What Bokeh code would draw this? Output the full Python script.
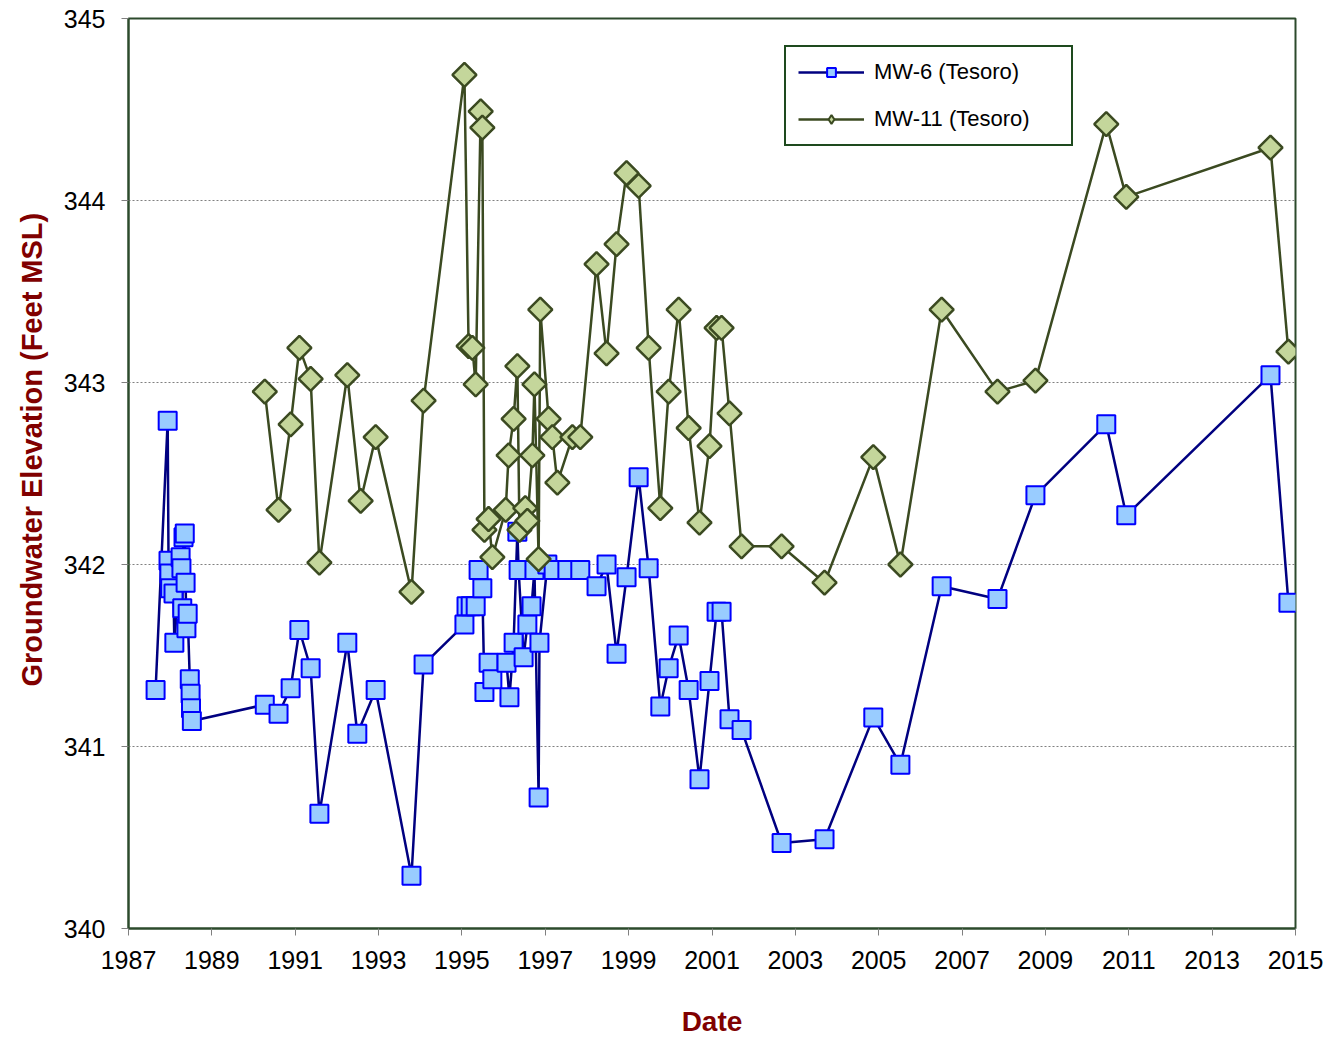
import numpy as np
from bokeh.plotting import figure
from bokeh.models import FixedTicker, Range1d, Legend, LegendItem, Title
from bokeh.embed import file_html
from bokeh.resources import INLINE

# ---- data (decimal years, feet MSL) ----
mw6_dates = [1987.65, 1987.94, 1987.96, 1987.98, 1988.00, 1988.08, 1988.10, 1988.25, 1988.27,
             1988.29, 1988.32, 1988.35, 1988.37, 1988.39, 1988.42, 1988.47, 1988.49, 1988.50,
             1988.52, 1990.27, 1990.60, 1990.89, 1991.10, 1991.37, 1991.58, 1992.25, 1992.49,
             1992.93, 1993.79, 1994.08, 1995.06, 1995.11, 1995.21, 1995.33, 1995.40, 1995.49,
             1995.54, 1995.64, 1995.73, 1996.07, 1996.14, 1996.24, 1996.33, 1996.36, 1996.48,
             1996.57, 1996.67, 1996.74, 1996.84, 1996.86, 1997.05, 1997.20, 1997.53, 1997.84,
             1998.23, 1998.47, 1998.71, 1998.95, 1999.24, 1999.48, 1999.76, 1999.96, 2000.20,
             2000.44, 2000.70, 2000.94, 2001.11, 2001.23, 2001.42, 2001.71, 2002.67, 2003.70,
             2004.87, 2005.52, 2006.51, 2007.85, 2008.76, 2010.46, 2010.94, 2014.40, 2014.83]
mw6_values = [341.31, 342.79, 342.02, 341.95, 341.87, 341.84, 341.57, 342.04, 341.98,
              341.76, 342.15, 342.17, 341.90, 341.65, 341.73, 341.37, 341.29, 341.21,
              341.14, 341.23, 341.18, 341.32, 341.64, 341.43, 340.63, 341.57, 341.07,
              341.31, 340.29, 341.45, 341.67, 341.77, 341.77, 341.77, 341.97, 341.87,
              341.30, 341.46, 341.37, 341.46, 341.27, 341.57, 342.18, 341.97, 341.49,
              341.67, 341.77, 341.97, 340.72, 341.57, 342.00, 341.97, 341.97, 341.97,
              341.88, 342.00, 341.51, 341.93, 342.48, 341.98, 341.22, 341.43, 341.61,
              341.31, 340.82, 341.36, 341.74, 341.74, 341.15, 341.09, 340.47, 340.49,
              341.16, 340.90, 341.88, 341.81, 342.38, 342.77, 342.27, 343.04, 341.79]

mw11_dates = [1990.27, 1990.60, 1990.89, 1991.10, 1991.37, 1991.58, 1992.25, 1992.57, 1992.93,
              1993.79, 1994.08, 1995.06, 1995.16, 1995.25, 1995.33, 1995.45, 1995.49, 1995.54,
              1995.64, 1995.73, 1996.05, 1996.12, 1996.24, 1996.33, 1996.38, 1996.52, 1996.57,
              1996.69, 1996.74, 1996.84, 1996.88, 1997.08, 1997.17, 1997.29, 1997.65, 1997.84,
              1998.23, 1998.47, 1998.71, 1998.95, 1999.24, 1999.48, 1999.76, 1999.96, 2000.20,
              2000.44, 2000.70, 2000.94, 2001.11, 2001.23, 2001.42, 2001.71, 2002.67, 2003.70,
              2004.87, 2005.52, 2006.51, 2007.85, 2008.76, 2010.46, 2010.94, 2014.40, 2014.83]
mw11_values = [342.95, 342.30, 342.77, 343.19, 343.02, 342.01, 343.04, 342.35, 342.70,
               341.85, 342.90, 344.69, 343.20, 343.19, 342.99, 344.49, 344.40, 342.19,
               342.25, 342.04, 342.30, 342.60, 342.80, 343.09, 342.19, 342.31, 342.24,
               342.60, 342.99, 342.03, 343.40, 342.80, 342.70, 342.45, 342.70, 342.70,
               343.65, 343.16, 343.76, 344.15, 344.08, 343.19, 342.31, 342.95, 343.40,
               342.75, 342.23, 342.65, 343.30, 343.30, 342.83, 342.10, 342.10, 341.90,
               342.59, 342.00, 343.40, 342.95, 343.01, 344.42, 344.02, 344.29, 343.17]

x_ticks = list(range(1987, 2016, 2))
y_ticks = [340, 341, 342, 343, 344, 345]
series_labels = ["MW-6 (Tesoro)", "MW-11 (Tesoro)"]
x_title = "Date"
y_title = "Groundwater Elevation (Feet MSL)"

FONT = "Liberation Sans"
TITLE_RED = "#800000"
FRAME = "#2C4A2C"
MW6_LINE, MW6_FILL, MW6_EDGE = "#000080", "#99CCFF", "#0000FF"
MW11_LINE, MW11_FILL = "#3B4A21", "#C4D69B"

p = figure(width=1331, height=1041, output_backend="svg", toolbar_location=None,
           x_range=Range1d(1987, 2015), y_range=Range1d(340, 345),
           min_border_left=128, min_border_right=36, min_border_top=18, min_border_bottom=113)
p.background_fill_color = "white"
p.border_fill_color = "white"
p.outline_line_color = FRAME
p.outline_line_width = 2

# grid
p.xgrid.visible = False
p.ygrid.ticker = FixedTicker(ticks=y_ticks)
p.ygrid.grid_line_color = "#808080"
p.ygrid.grid_line_dash = "2 2"
p.ygrid.grid_line_width = 1

# axes
p.xaxis.ticker = FixedTicker(ticks=x_ticks)
p.yaxis.ticker = FixedTicker(ticks=y_ticks)
for ax in (p.xaxis[0], p.yaxis[0]):
    ax.axis_line_color = FRAME
    ax.axis_line_width = 2
    ax.major_tick_line_color = "#808080"
    ax.major_tick_out = 7
    ax.major_tick_in = 0
    ax.minor_tick_line_color = None
    ax.major_label_text_font = FONT
    ax.major_label_text_font_size = "25px"
    ax.major_label_text_color = "black"
p.xaxis.major_label_standoff = 15
p.yaxis.major_label_standoff = 16

p.xaxis.axis_label = x_title
p.xaxis.axis_label_standoff = 34
p.xaxis.axis_label_text_font = FONT
p.xaxis.axis_label_text_font_size = "28px"
p.xaxis.axis_label_text_font_style = "bold"
p.xaxis.axis_label_text_color = TITLE_RED

p.add_layout(Title(text=y_title, align="left", offset=242, standoff=25,
                   text_font=FONT, text_font_size="29px", text_font_style="bold",
                   text_color=TITLE_RED), "left")

# MW-6
l6 = p.line(mw6_dates, mw6_values, line_color=MW6_LINE, line_width=2.5)
s6 = p.scatter(mw6_dates, mw6_values, marker="square", size=18,
               fill_color=MW6_FILL, line_color=MW6_EDGE, line_width=2)
# MW-11
l11 = p.line(mw11_dates, mw11_values, line_color=MW11_LINE, line_width=2.5)
# legend key for MW-11 (tiny diamond hidden under the first MW-11 marker)
k11 = p.scatter(mw11_dates[:1], mw11_values[:1], marker="diamond", size=1,
                fill_color=MW11_FILL, line_color=MW11_LINE, line_width=2)
s11 = p.scatter(mw11_dates, mw11_values, marker="square", angle=np.pi / 4, size=17,
                fill_color=MW11_FILL, line_color=MW11_LINE, line_width=2.5)

legend = Legend(items=[LegendItem(label=series_labels[0], renderers=[l6, s6]),
                       LegendItem(label=series_labels[1], renderers=[l11, k11])],
                location=(656, 782))
legend.border_line_color = "#1E4A1E"
legend.border_line_alpha = 1
legend.border_line_width = 2
legend.background_fill_color = "white"
legend.background_fill_alpha = 1
legend.padding = 12
legend.spacing = 21
legend.glyph_width = 66
legend.glyph_height = 22
legend.label_height = 20
legend.label_width = 185
legend.label_standoff = 10
legend.label_text_font = FONT
legend.label_text_font_size = "22px"
legend.label_text_color = "black"
legend.margin = 0
p.add_layout(legend, "center")

open("out.html", "w").write(file_html(p, INLINE))
